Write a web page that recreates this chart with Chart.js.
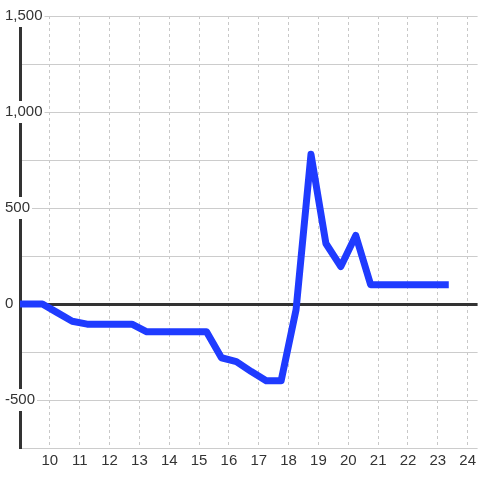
<!DOCTYPE html>
<html>
<head>
<meta charset="utf-8">
<script src="https://cdn.jsdelivr.net/npm/chart.js@4"></script>
<style>
  html, body { margin: 0; padding: 0; background: #fff; }
  #wrap { width: 480px; height: 480px; }
</style>
</head>
<body>
<div id="wrap"><canvas id="myChart"></canvas></div>
<script>
// hours (x) and values (y)
const hours = [8.75, 9.25, 9.75, 10.25, 10.75, 11.25, 11.75, 12.25, 12.75, 13.25, 13.75, 14.25,
               14.75, 15.25, 15.75, 16.25, 16.75, 17.25, 17.75, 18.25, 18.75, 19.25, 19.75,
               20.25, 20.75, 21.25, 21.75, 22.25, 22.75, 23.25];
const values = [0, 0, 0, -45, -90, -105, -105, -105, -105, -145, -145, -145,
                -145, -145, -280, -300, -352, -400, -400, -30, 780, 315, 195,
                357, 100, 100, 100, 100, 100, 100];
const xTicks = [10, 11, 12, 13, 14, 15, 16, 17, 18, 19, 20, 21, 22, 23, 24];
const yLabels = [-500, 0, 500, 1000, 1500];

const font = { family: "'Liberation Sans', Arial, sans-serif", size: 15 };

const ctx = document.getElementById("myChart").getContext("2d");
new Chart(ctx, {
    type: "line",
    data: {
        datasets: [{
            data: hours.map((h, i) => ({ x: h, y: values[i] })),
            borderColor: "#1f3bff",
            borderWidth: 7,
            borderJoinStyle: "round",
            borderCapStyle: "square",
            pointRadius: 0,
            tension: 0
        }]
    },
    options: {
        responsive: true,
        maintainAspectRatio: false,
        animation: false,
        layout: { padding: { left: 0, top: 16, right: 0, bottom: 0 } },
        plugins: { legend: { display: false }, tooltip: { enabled: false } },
        scales: {
            x: {
                type: "linear",
                min: 9,
                max: 24.333,
                afterBuildTicks: s => { s.ticks = xTicks.map(v => ({ value: v })); },
                afterFit: s => { s.height = 32; },
                border: { display: false, dash: [3, 3] },
                grid: {
                    z: -1,
                    color: "#c8c8c8",
                    lineWidth: 1,
                    drawTicks: false
                },
                ticks: { font: font, color: "#333", padding: 4, maxRotation: 0, autoSkip: false }
            },
            y: {
                min: -750,
                max: 1500,
                afterFit: s => { s.width = 20; },
                border: { display: true, color: "#333", width: 3 },
                grid: {
                    drawTicks: false,
                    color: c => c.tick && c.tick.value === 0 ? "#333" : "#cccccc",
                    lineWidth: c => c.tick && c.tick.value === 0 ? 3 : 1
                },
                ticks: {
                    stepSize: 250,
                    font: font,
                    color: "#333",
                    mirror: true,
                    crossAlign: "near",
                    padding: -15,
                    callback: v => yLabels.includes(v) ? v.toLocaleString("en-US") : "",
                    showLabelBackdrop: c => c.tick && yLabels.includes(c.tick.value),
                    backdropColor: "#fff",
                    backdropPadding: 2
                }
            }
        }
    }
});
</script>
</body>
</html>
